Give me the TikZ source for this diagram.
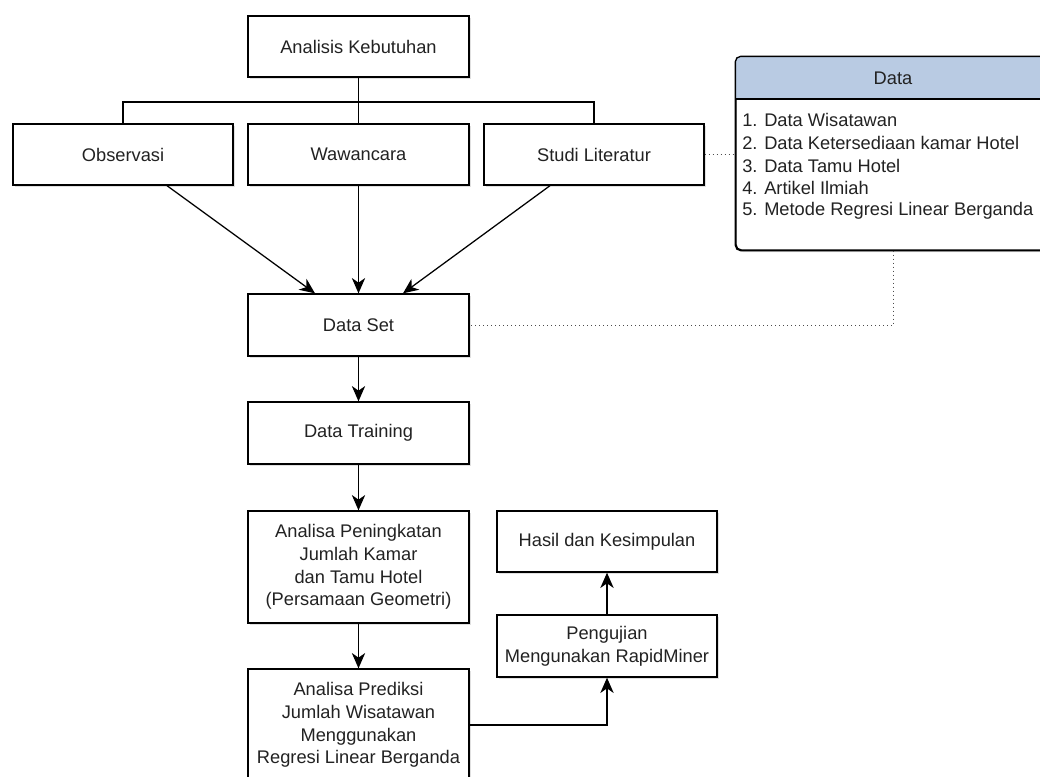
\documentclass[tikz,border=0pt]{standalone}
\usepackage{fontspec}
\setmainfont{Liberation Sans}
\usetikzlibrary{arrows.meta,calc,shadows}
\definecolor{hdr}{HTML}{B9CBE3}
\definecolor{txt}{HTML}{222222}
\tikzset{
  box/.style={draw=black, line width=1pt, fill=white, rectangle, align=center,
    text=txt, font=\fontsize{13.7pt}{17pt}\selectfont,
    drop shadow={shadow xshift=1.6pt, shadow yshift=-1.6pt, opacity=0.12, fill=black},
    inner sep=0pt},
  arr/.style={draw=black, line width=0.95pt, -{Stealth[length=11.5pt, width=10pt, inset=3.5pt]}},
  ln/.style={draw=black, line width=0.95pt},
  dots/.style={draw=black!70, line width=0.7pt, dash pattern=on 0.6pt off 2.4pt},
  lst/.style={text=txt, font=\fontsize{13.7pt}{17pt}\selectfont, inner sep=0pt, anchor=west}
}
\begin{document}
\begin{tikzpicture}[x=0.75pt, y=-0.75pt]
\useasboundingbox (0,0) rectangle (1040,776);
\clip (0,0) rectangle (1040,776);
\fill[white] (0,0) rectangle (1040,776);

% main boxes
\node[box, minimum width=221*0.75pt, minimum height=61*0.75pt] (ak) at (358.5,46.5) {Analisis Kebutuhan};
\node[box, minimum width=220*0.75pt, minimum height=61*0.75pt] (obs) at (123,154.5) {Observasi};
\node[box, minimum width=221*0.75pt, minimum height=61*0.75pt] (ww) at (358.5,154.5) {Wawancara};
\node[box, minimum width=220*0.75pt, minimum height=61*0.75pt] (studi) at (594,154.5) {Studi Literatur};
\node[box, minimum width=221*0.75pt, minimum height=62*0.75pt] (ds) at (358.5,325) {Data Set};
\node[box, minimum width=221*0.75pt, minimum height=62*0.75pt] (dt) at (358.5,433) {Data Training};
\node[box, minimum width=221*0.75pt, minimum height=112*0.75pt] (apg) at (358.5,567) {Analisa Peningkatan\\Jumlah Kamar\\dan Tamu Hotel\\(Persamaan Geometri)};
\node[box, minimum width=221*0.75pt, minimum height=112*0.75pt] (apd) at (358.5,725) {Analisa Prediksi\\Jumlah Wisatawan\\Menggunakan\\Regresi Linear Berganda};
\node[box, minimum width=220*0.75pt, minimum height=61*0.75pt] (hk) at (607,541.5) {Hasil dan Kesimpulan};
\node[box, minimum width=220*0.75pt, minimum height=62*0.75pt] (peng) at (607,646) {Pengujian\\Mengunakan RapidMiner};

% Data panel
\node[draw=black, line width=1pt, fill=white, rounded corners=4pt, minimum width=314*0.75pt, minimum height=193*0.75pt, inner sep=0pt,
  drop shadow={shadow xshift=1.6pt, shadow yshift=-1.6pt, opacity=0.12, fill=black}] (datab) at (893,153.5) {};
\begin{scope}
  \clip[rounded corners=4pt] (datab.north west) rectangle (datab.south east);
  \fill[hdr] (datab.north west) rectangle (1050,99);
\end{scope}
\draw[line width=1pt, rounded corners=4pt] (datab.north west) rectangle (datab.south east);
\draw[line width=1pt] (736,99) -- (1050,99);
\node[text=txt, font=\fontsize{13.7pt}{17pt}\selectfont, inner sep=0pt] (dhead) at (893,78) {Data};
\node[lst] (l1) at (742,120) {1. Data Wisatawan};
\node[lst] (l2) at (742,143) {2. Data Ketersediaan kamar Hotel};
\node[lst] (l3) at (742,166) {3. Data Tamu Hotel};
\node[lst] (l4) at (742,188) {4. Artikel Ilmiah};
\node[lst] (l5) at (742,211) {5. Metode Regresi Linear Berganda};

% bus from Analisis Kebutuhan
\coordinate (bus) at (358.5,102);
\draw[ln] (ak.south) -- (ww.north);
\draw[ln] (obs.north) |- (bus) -| (studi.north);

% arrows into Data Set
\draw[arr] ($(obs.south)+(44,0)$) -- ($(ds.north)+(-43.5,0)$);
\draw[arr] (ww.south) -- (ds.north);
\draw[arr] ($(studi.south)+(-44,0)$) -- ($(ds.north)+(44.5,0)$);

% chain
\draw[arr] (ds.south) -- (dt.north);
\draw[arr] (dt.south) -- (apg.north);
\draw[arr] (apg.south) -- (apd.north);
\draw[arr] (apd.east) -| (peng.south);
\draw[arr] (peng.north) -- (hk.south);

% dotted links
\draw[dots] (studi.east) -- (studi.east -| datab.west);
\draw[dots] (datab.south) |- (ds.east);
\end{tikzpicture}
\end{document}
